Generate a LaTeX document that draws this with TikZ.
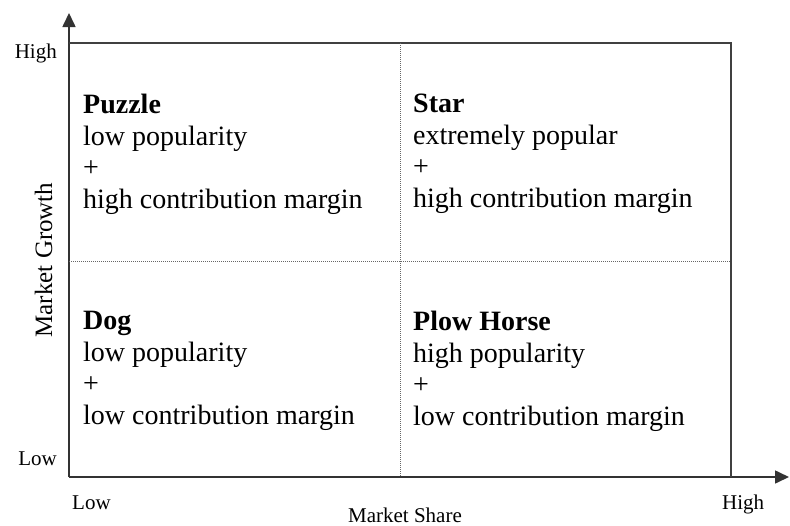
\documentclass[tikz,border=0pt]{standalone}
\usepackage{fontspec}
\setmainfont{Liberation Serif}
\usetikzlibrary{arrows.meta,positioning}

\begin{document}
\begin{tikzpicture}[
    x=1pt,y=-1pt,
    quad/.style={anchor=north west,align=left,inner sep=0pt,font=\fontsize{28}{31.5}\selectfont},
    tick/.style={inner sep=0pt,font=\fontsize{21}{24}\selectfont},
    axis/.style={line width=1.6pt,draw=black!80,-{Triangle[length=14pt,width=13pt]}},
    frame/.style={line width=1.6pt,draw=black!75},
    split/.style={line width=0.9pt,draw=black!60,dash pattern=on 1pt off 1pt}
]
    \useasboundingbox (0,0) rectangle (790,525);

    % axes
    \coordinate (origin) at (69,477);
    \coordinate (ytip) at (69,13);
    \coordinate (xtip) at (789,477);
    \coordinate (topleft) at (69,43);
    \coordinate (topright) at (731,43);
    \coordinate (botright) at (731,477);
    \draw[axis] (origin) -- (ytip);
    \draw[axis] (origin) -- (xtip);
    \draw[frame] (topleft) -- (topright) -- (botright);

    % quadrant borders
    \coordinate (midtop) at (400,43);
    \coordinate (midbot) at (400,477);
    \coordinate (midleft) at (69,261);
    \coordinate (midright) at (731,261);
    \draw[split] (midtop) -- (midbot);
    \draw[split] (midleft) -- (midright);

    % the four quadrants
    \node[quad] (puzzle) at (83,94) {\textbf{Puzzle}\\low popularity\\+\\high contribution margin};
    \node[quad] (star) at (413,94) {\textbf{Star}\\extremely popular\\+\\high contribution margin};
    \node[quad] (dog) at (83,311) {\textbf{Dog}\\low popularity\\+\\low contribution margin};
    \node[quad] (horse) at (413,311) {\textbf{Plow Horse}\\high popularity\\+\\low contribution margin};

    % axis labels
    \node[tick,anchor=base east] (yhigh) at (57,58) {High};
    \node[tick,anchor=base east] (ylow) at (57,465) {Low};
    \node[tick,anchor=base west] (xlow) at (72,509) {Low};
    \node[tick,anchor=base west] (xhigh) at (722,509) {High};
    \node[tick,anchor=base] (share) at (405,522) {Market Share};
    \node[tick,anchor=base,rotate=90,font=\fontsize{25}{28}\selectfont] (growth) at (52,260) {Market Growth};
\end{tikzpicture}
\end{document}
